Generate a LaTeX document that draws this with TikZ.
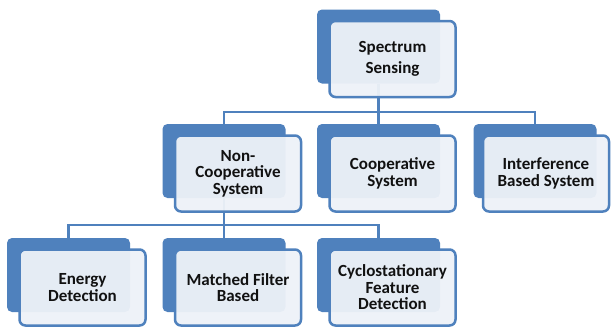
\documentclass[tikz,border=0pt]{standalone}
\usepackage{fontspec}
\setmainfont{Carlito}
\usetikzlibrary{calc}
\definecolor{backblue}{HTML}{4F81BD}
\definecolor{frontfill}{HTML}{EEF2F8}
\definecolor{txt}{HTML}{111111}
\pgfdeclarelayer{bg}
\pgfsetlayers{bg,main}
\begin{document}
\begin{tikzpicture}[x=1pt,y=-1pt,
  backbox/.style={fill=backblue, rounded corners=5pt, minimum width=123pt, minimum height=74pt, inner sep=0pt},
  frontbox/.style={draw=backblue, line width=2.5pt, fill=frontfill, fill opacity=0.95, text opacity=1,
    rounded corners=6pt, minimum width=126pt, minimum height=76pt, inner sep=0pt, align=center,
    font=\fontsize{17}{16.5}\selectfont\bfseries, text=txt},
  conn/.style={draw=backblue, line width=2.6pt}]
\useasboundingbox (0,0) rectangle (612,330);
% back boxes
\node[backbox] (bss) at (378.5,46.5) {};
\node[backbox] (bnc) at (224,161) {};
\node[backbox] (bco) at (378.5,161) {};
\node[backbox] (bib) at (535,161) {};
\node[backbox] (bed) at (68.5,275) {};
\node[backbox] (bmf) at (224,275) {};
\node[backbox] (bcf) at (378.5,275) {};
% front boxes
\node[frontbox, font=\fontsize{17}{21}\selectfont\bfseries] (fss) at ($(bss)+(14,12.5)$) {Spectrum\\Sensing};
\node[frontbox] (fnc) at ($(bnc)+(14,12.5)$) {Non-\\Cooperative\\System};
\node[frontbox] (fco) at ($(bco)+(14,12.5)$) {Cooperative\\System};
\node[frontbox] (fib) at ($(bib)+(11,12.5)$) {Interference\\Based System};
\node[frontbox] (fed) at ($(bed)+(14,12.5)$) {Energy\\Detection};
\node[frontbox] (fmf) at ($(bmf)+(14,12.5)$) {Matched Filter\\Based};
\node[frontbox] (fcf) at ($(bcf)+(14,12.5)$) {Cyclostationary\\Feature\\Detection};
% connectors
\coordinate (j1) at (378.5,112);
\coordinate (j2) at (224,225);
\begin{pgfonlayer}{bg}
\fill[white] (0,0) rectangle (612,330);
\draw[conn] (bss.south) -- (j1);
\draw[conn] (bnc.north) |- (j1) -| (bib.north);
\draw[conn] (j1) -- (bco.north);
\draw[conn] (bnc.south) -- (j2);
\draw[conn] (bed.north) |- (j2) -| (bcf.north);
\draw[conn] (j2) -- (bmf.north);
\end{pgfonlayer}
\end{tikzpicture}
\end{document}
